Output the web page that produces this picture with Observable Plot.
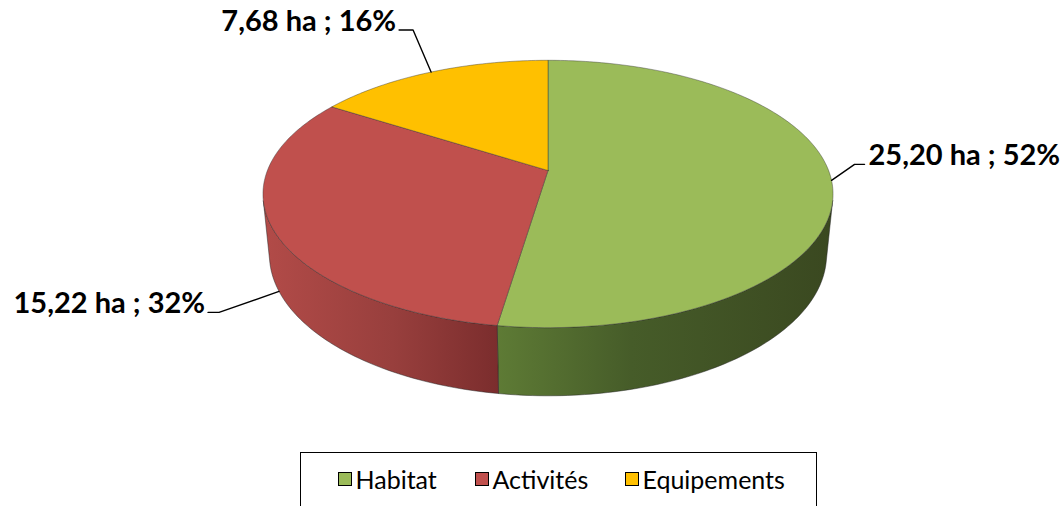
<!DOCTYPE html>
<html>
<head>
<meta charset="utf-8">
<script src="https://cdn.jsdelivr.net/npm/d3@7"></script>
<script src="https://cdn.jsdelivr.net/npm/@observablehq/plot@0.6"></script>
<style>
  html, body { margin: 0; padding: 0; background: #fff; }
  #wrap { position: relative; width: 1064px; height: 506px; overflow: hidden; }
  #legend {
    position: absolute; left: 300px; top: 452px; width: 517px; height: 70px;
    border: 1.5px solid #000; box-sizing: border-box;
    font-family: Lato, "Open Sans", sans-serif; font-size: 25px; line-height: 30px; color: #000;
  }
  .item { position: absolute; top: 11px; display: flex; align-items: center; }
  .sw { width: 12px; height: 12px; border: 1.5px solid #000; margin-right: 4px; }
</style>
</head>
<body>
<div id="wrap"><div id="chart"></div><div id="legend"></div></div>
<script>
// ---- data ----
const categories = ["Habitat", "Activités", "Equipements"];
const areas = [25.20, 15.22, 7.68];        // ha
const shares = [52, 32, 16];               // %
const topColors = ["#9BBB59", "#C0504D", "#FFC000"];

// ---- layout (not data) ----
const W = 1064, H = 446;
const CX = 547.5, CY = 170, S = 280.6;     // apex position & projection scale (px)
const ELEV = 27.5;                          // elevation angle (deg)
const PERSP = 0.198;                        // perspective strength (1 / camera distance)
const THICK = 0.246;                        // pie thickness (radius units)
const labelLayout = {
  "Habitat":     {t: 0.5, depth: 0, dx: 23,  dy: -16, arm: 10,  anchor: "start"},
  "Activités":   {t: 0.5, depth: 1, dx: -60, dy: 21,  arm: -11, anchor: "end"},
  "Equipements": {t: 0.5, depth: 0, dx: -18, dy: -42, arm: -14, anchor: "end"}
};
const legendX = [338, 475, 625];

const total = d3.sum(areas);
let acc = 0;
const slices = categories.map((c, i) => {
  const a0 = acc / total * 360;
  acc += areas[i];
  const a1 = acc / total * 360;
  return {category: c, area: areas[i], share: shares[i], a0, a1, color: topColors[i], i};
});

const rad = (deg) => deg * Math.PI / 180;
const sE = Math.sin(rad(ELEV)), cE = Math.cos(rad(ELEV));
// perspective projection of a point on the pie rim (depthFrac 0 = top, 1 = bottom)
function proj(deg, depthFrac = 0, r = 1) {
  const X = r * Math.sin(rad(deg)), Z = r * Math.cos(rad(deg)), Y = -THICK * depthFrac;
  const w = 1 + PERSP * (Z * cE - Y * sE);
  return {x: X / w, y: -(Z * sE + Y * cE) / w};
}
function arc(from, to, depthFrac) {
  const n = Math.max(2, Math.ceil(Math.abs(to - from)));
  return d3.range(n + 1).map(k => proj(from + (to - from) * k / n, depthFrac));
}
// side is visible where the outward normal faces the camera
const cutoff = Math.acos(-PERSP / cE) * 180 / Math.PI;  // ~102.9 deg
const visFrom = cutoff, visTo = 360 - cutoff;

const apex = proj(0, 0, 0);
const topFaces = slices.map(s => ({s, pts: [apex, ...arc(s.a0, s.a1, 0), apex]}));
const sideFaces = slices.filter(s => s.a1 > visFrom && s.a0 < visTo).map(s => {
  const f = Math.max(s.a0, visFrom), t = Math.min(s.a1, visTo);
  const topArc = arc(f, t, 0);
  const botArc = arc(t, f, 1);
  return {s, pts: [...topArc, ...botArc, topArc[0]]};
});

const gradIds = ["gHab", "gAct", "gEqu"];
function defsMark() {
  const defs = d3.create("svg:defs");
  const grads = [
    [["0%", "#5e7b35"], ["40%", "#465c29"], ["100%", "#3a4820"]],
    [["0%", "#b24b48"], ["55%", "#983f3d"], ["100%", "#7b2d2d"]],
    [["0%", "#c89600"], ["100%", "#9a7200"]]
  ];
  grads.forEach((stops, i) => {
    const g = defs.append("linearGradient").attr("id", gradIds[i])
      .attr("x1", "0").attr("x2", "1").attr("y1", "0").attr("y2", "0");
    stops.forEach(([o, c]) => g.append("stop").attr("offset", o).attr("stop-color", c));
  });
  return defs.node();
}

// leader lines and labels
const fmt = (v) => v.toFixed(2).replace(".", ",");
const px = (v) => v / S;
const labels = slices.map(s => {
  const L = labelLayout[s.category];
  const a = proj(s.a0 + L.t * (s.a1 - s.a0), L.depth);
  const e = {x: a.x + px(L.dx), y: a.y + px(L.dy)};
  const end = {x: e.x + px(L.arm), y: e.y};
  const tx = {x: end.x + px(L.arm > 0 ? 4 : -3), y: end.y + px(1)};
  return {s, L, pts: [a, e, end], text: `${fmt(s.area)} ha ; ${s.share}%`, tx};
});

const marks = [defsMark];
sideFaces.forEach(f => marks.push(Plot.line(f.pts, {
  x: "x", y: "y", fill: `url(#${gradIds[f.s.i]})`, stroke: "#222", strokeWidth: 0.6, strokeOpacity: 0.8, curve: "linear"
})));
topFaces.forEach(f => marks.push(Plot.line(f.pts, {
  x: "x", y: "y", fill: f.s.color, stroke: "#333", strokeWidth: 0.6, strokeOpacity: 0.7, curve: "linear"
})));
labels.forEach(l => {
  marks.push(Plot.line(l.pts, {x: "x", y: "y", stroke: "#000", strokeWidth: 1.4, curve: "linear"}));
  marks.push(Plot.text([l], {
    x: d => d.tx.x, y: d => d.tx.y, text: d => d.text,
    textAnchor: l.L.anchor, lineAnchor: "bottom",
    fontFamily: "Lato, 'Open Sans', sans-serif", fontWeight: "bold", fontSize: 29, fill: "#000"
  }));
});

const chart = Plot.plot({
  width: W, height: H,
  marginTop: 0, marginRight: 0, marginBottom: 0, marginLeft: 0,
  x: {type: "linear", domain: [-1, 1], range: [CX - S, CX + S], axis: null},
  y: {type: "linear", domain: [-1, 1], range: [CY - S, CY + S], axis: null},
  style: {background: "#fff", overflow: "visible"},
  marks
});
document.getElementById("chart").appendChild(chart);

// legend
const legend = document.getElementById("legend");
categories.forEach((c, i) => {
  const item = document.createElement("div");
  item.className = "item";
  item.style.left = (legendX[i] - 301.5) + "px";
  const sw = document.createElement("div");
  sw.className = "sw";
  sw.style.background = topColors[i];
  const tx = document.createElement("span");
  tx.textContent = c;
  item.appendChild(sw); item.appendChild(tx);
  legend.appendChild(item);
});
</script>
</body>
</html>
